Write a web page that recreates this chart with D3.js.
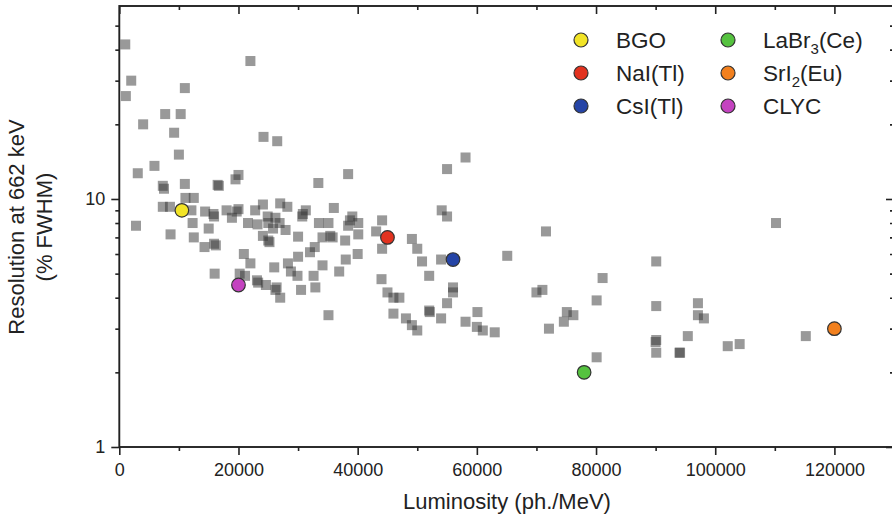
<!DOCTYPE html>
<html>
<head>
<meta charset="utf-8">
<script src="https://cdn.jsdelivr.net/npm/d3@7"></script>
<style>
  html, body { margin: 0; padding: 0; background: #fff; }
  svg { display: block; font-family: "Liberation Sans", Arial, Helvetica, sans-serif; }
</style>
</head>
<body>
<svg id="chart" width="892" height="519"></svg>
<script>
// Light yield (ph./MeV) of assorted scintillators
const otherLuminosity = [
  1000, 2000, 1100, 11000, 22000, 7700, 10300, 4000, 9200, 24200, 26500, 10000, 5900, 3100,
  20000, 19500, 7300, 7500, 11000, 16500, 16700, 2800, 7300, 8500, 11100, 12500, 12100, 14400,
  15900, 15800, 18000, 19700, 20000, 18900, 12300, 8600, 12500, 15000, 14300, 15900, 16200, 16000,
  21600, 23200, 22800, 24100, 27000, 28200, 30700, 24900, 26200, 25000, 26900, 25800, 27900, 24100,
  25000, 25200, 30000, 20900, 22000, 30000, 26000, 28300, 28800, 29900, 30500, 20200, 21100, 23100,
  23300, 24600, 26400, 26200, 27000,
  33400, 38400, 31300, 30800, 36000, 33500, 35100, 38700, 39100, 40100, 38400, 44100, 43100, 34100,
  35400, 35800, 37900, 40100, 32800, 32000, 34100, 38000, 40000, 36900, 44100, 49100, 50000, 50800,
  52000, 54000, 54100, 55000, 55000, 58100, 32600, 32900, 35100, 44000, 45000, 46000, 47000, 46000,
  48100, 49100, 50000, 52000, 52100, 54000, 56000, 56000, 55000, 58100, 60100, 60000, 61000,
  71600, 65100, 110200, 90100, 81100, 70000, 71000, 80100, 63000, 72100, 75100, 76200, 74600,
  80100, 90100, 90100, 90000, 90100, 94100, 94000, 95400, 97100, 97100, 98100, 102100, 104100, 115200
];
// Energy resolution at 662 keV (% FWHM), same order as above
const otherResolution = [
  42, 30, 26, 28, 36, 22, 22, 20, 18.5, 17.8, 17.1, 15.1, 13.6, 12.7,
  12.5, 12.0, 11.3, 11.0, 11.5, 11.4, 11.3, 7.8, 9.3, 9.3, 10.1, 10.1, 9.0, 8.9,
  8.5, 8.7, 9.0, 8.9, 9.1, 8.4, 8.0, 7.2, 7.0, 7.6, 6.4, 6.6, 6.5, 5.0,
  8.0, 7.9, 9.0, 9.5, 9.6, 9.3, 8.5, 8.5, 8.4, 8.0, 8.0, 7.6, 7.5, 7.1,
  6.8, 6.7, 7.05, 6.0, 5.5, 5.85, 5.3, 5.5, 5.1, 4.9, 4.3, 5.0, 4.9, 4.7,
  4.6, 4.5, 4.4, 4.3, 4.0,
  11.6, 12.6, 9.0, 8.7, 9.2, 8.0, 8.0, 8.2, 8.5, 8.0, 7.8, 8.2, 7.4, 7.0,
  7.1, 7.0, 6.8, 7.2, 6.4, 6.1, 5.4, 5.7, 6.0, 5.1, 6.3, 6.9, 6.3, 5.6,
  4.9, 5.7, 9.0, 8.5, 13.2, 14.7, 4.9, 4.4, 3.4, 4.75, 4.2, 4.0, 4.0, 3.45,
  3.3, 3.1, 2.95, 3.55, 3.5, 3.3, 4.4, 4.2, 3.8, 3.2, 3.5, 3.05, 2.95,
  7.4, 5.9, 8.0, 5.6, 4.8, 4.2, 4.3, 3.9, 2.9, 3.0, 3.5, 3.4, 3.2,
  2.3, 3.7, 2.7, 2.65, 2.4, 2.4, 2.4, 2.8, 3.8, 3.4, 3.3, 2.55, 2.6, 2.8
];

// Highlighted crystals
const crystalNames = ["BGO", "NaI(Tl)", "CsI(Tl)", "LaBr3(Ce)", "SrI2(Eu)", "CLYC"];
const crystalLuminosity = [10500, 45000, 56000, 78000, 120000, 20000];
const crystalResolution = [9.0, 7.0, 5.7, 2.0, 3.0, 4.5];
const crystalColors = ["#f2e426", "#e2321f", "#2544a6", "#55c23f", "#f2801e", "#c443c0"];

// Axis ticks
const xMajorTicks = [0, 20000, 40000, 60000, 80000, 100000, 120000];
const xMinorTicks = [10000, 30000, 50000, 70000, 90000, 110000, 130000];
const yMajorTicks = [1, 10];
const yMinorTicks = [2, 3, 4, 5, 6, 7, 8, 9, 20, 30, 40, 50];

const svg = d3.select("#chart");
const plotLeft = 119.3, plotRight = 894, plotTop = 6, plotBottom = 447;
const x = d3.scaleLinear().domain([0, 130000]).range([plotLeft, plotRight]);
const y = d3.scaleLog().domain([1, 60]).range([plotBottom, plotTop]);

const axisColor = "#222";
const fmt = d3.format("d");

function styleAxis(g) {
  g.select(".domain").remove();
  g.selectAll(".tick line").attr("stroke", axisColor).attr("stroke-width", 1.6);
  g.selectAll(".tick text").attr("fill", "#222").style("font-size", "18px")
    .style("font-family", '"Liberation Sans", Arial, Helvetica, sans-serif');
}

// bottom axis (outward ticks)
svg.append("g").attr("transform", `translate(0,${plotBottom})`)
  .call(d3.axisBottom(x).tickValues(xMajorTicks).tickSize(8).tickPadding(8).tickFormat(fmt))
  .call(styleAxis);
svg.append("g").attr("transform", `translate(0,${plotBottom})`)
  .call(d3.axisBottom(x).tickValues(xMinorTicks).tickSize(4).tickFormat(""))
  .call(styleAxis);
// top axis (inward ticks)
svg.append("g").attr("transform", `translate(0,${plotTop})`)
  .call(d3.axisBottom(x).tickValues(xMajorTicks).tickSize(8).tickFormat(""))
  .call(styleAxis);
svg.append("g").attr("transform", `translate(0,${plotTop})`)
  .call(d3.axisBottom(x).tickValues(xMinorTicks).tickSize(4).tickFormat(""))
  .call(styleAxis);
// left axis (outward ticks)
svg.append("g").attr("transform", `translate(${plotLeft},0)`)
  .call(d3.axisLeft(y).tickValues(yMajorTicks).tickSize(8).tickPadding(6).tickFormat(fmt))
  .call(styleAxis);
svg.append("g").attr("transform", `translate(${plotLeft},0)`)
  .call(d3.axisLeft(y).tickValues(yMinorTicks).tickSize(4).tickFormat(""))
  .call(styleAxis);
// right axis (inward ticks)
svg.append("g").attr("transform", `translate(${plotRight},0)`)
  .call(d3.axisLeft(y).tickValues(yMajorTicks).tickSize(8).tickFormat(""))
  .call(styleAxis);
svg.append("g").attr("transform", `translate(${plotRight},0)`)
  .call(d3.axisLeft(y).tickValues(yMinorTicks).tickSize(4).tickFormat(""))
  .call(styleAxis);

// frame
svg.append("rect")
  .attr("x", plotLeft).attr("y", plotTop)
  .attr("width", plotRight - plotLeft).attr("height", plotBottom - plotTop)
  .attr("fill", "none").attr("stroke", axisColor).attr("stroke-width", 1.9);

// other scintillators: translucent grey squares
const others = otherLuminosity.map((v, i) => ({ lum: v, res: otherResolution[i] }));
const sq = 10;
svg.append("g").selectAll("rect")
  .data(others).join("rect")
  .attr("x", d => x(d.lum) - sq / 2)
  .attr("y", d => y(d.res) - sq / 2)
  .attr("width", sq).attr("height", sq)
  .attr("fill", "#333").attr("fill-opacity", 0.5);

// highlighted crystals
const crystals = crystalNames.map((n, i) => ({
  name: n, lum: crystalLuminosity[i], res: crystalResolution[i], color: crystalColors[i]
}));
svg.append("g").selectAll("circle")
  .data(crystals).join("circle")
  .attr("cx", d => x(d.lum)).attr("cy", d => y(d.res)).attr("r", 6.8)
  .attr("fill", d => d.color).attr("stroke", "#333").attr("stroke-width", 1.2);

// legend
const legendCols = [581, 728];
const legendRows = [40, 73, 106];
const lg = svg.append("g");
crystals.forEach((d, i) => {
  const cx = legendCols[Math.floor(i / 3)], cy = legendRows[i % 3];
  lg.append("circle").attr("cx", cx).attr("cy", cy).attr("r", 7)
    .attr("fill", d.color).attr("stroke", "#333").attr("stroke-width", 1.2);
  const t = lg.append("text").attr("x", cx + 35).attr("y", cy + 7.5)
    .attr("fill", "#222").style("font-size", "22.5px");
  const m = d.name.match(/^([A-Za-z]+)(\d)(\(.*\))$/);
  if (m) {
    t.append("tspan").text(m[1]);
    t.append("tspan").text(m[2]).attr("dy", 6).style("font-size", "15px");
    t.append("tspan").text(m[3]).attr("dy", -6);
  } else {
    t.text(d.name);
  }
});

// axis titles
svg.append("text").attr("x", 507).attr("y", 509).attr("text-anchor", "middle")
  .attr("fill", "#222").style("font-size", "22px").text("Luminosity (ph./MeV)");
const yt = svg.append("text").attr("transform", "translate(0,227) rotate(-90)")
  .attr("text-anchor", "middle").attr("fill", "#222").style("font-size", "22px");
yt.append("tspan").attr("x", 0).attr("y", 24).text("Resolution at 662 keV");
yt.append("tspan").attr("x", 0).attr("y", 52).text("(% FWHM)");
</script>
</body>
</html>
